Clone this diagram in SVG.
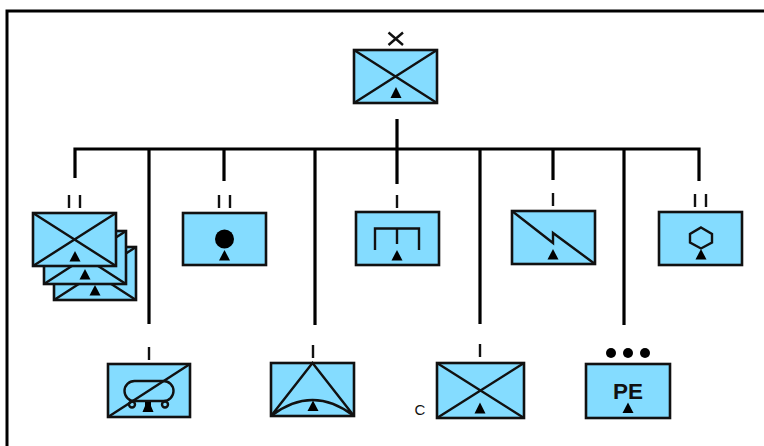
<svg xmlns="http://www.w3.org/2000/svg" width="764" height="446" viewBox="0 0 764 446">
<style>
.box{fill:#84DCFF;stroke:#111;stroke-width:2.6}
.sym{fill:none;stroke:#111;stroke-width:2.4}
.tri{fill:#000}
.tick{stroke:#111;stroke-width:2.4;fill:none}
.conn{stroke:#000;stroke-width:3.2;fill:none}
.t{font-family:"Liberation Sans",Arial,sans-serif;fill:#111}
</style>
<rect width="764" height="446" fill="#fff"/>
<path d="M7 446V11H764" fill="none" stroke="#000" stroke-width="3"/>
<g id="connectors" class="conn">
<path d="M75 178V149H699V181"/>
<path d="M397 119V184"/>
<path d="M149 149V324"/>
<path d="M224 149V181"/>
<path d="M315 149V325"/>
<path d="M480 149V324"/>
<path d="M553 149V180"/>
<path d="M624 149V325"/>
</g>
<g id="hq">
<path class="tick" d="M388.500 32.500L403 45M403 32.500L388.500 45"/>
<rect class="box" x="354" y="50" width="83" height="53"/>
<path class="sym" d="M354 50L437 103M437 50L354 103"/>
<path class="tri" d="M396 87L401.500 98H390.500Z"/>
</g>
<g id="battalion-stack">
<path class="tick" d="M69 195V208M80 195V208"/>
<rect class="box" x="54" y="247" width="82" height="53"/>
<path class="sym" d="M54 300L136 247M54 247L136 300"/>
<path class="tri" d="M95 285L100.500 295.500H89.500Z"/>
<rect class="box" x="44" y="231" width="82" height="53"/>
<path class="sym" d="M44 284L126 231M44 231L126 284"/>
<path class="tri" d="M85 269L90.500 279.500H79.500Z"/>
<rect class="box" x="33" y="213" width="83" height="53"/>
<path class="sym" d="M33 213L116 266M116 213L33 266"/>
<path class="tri" d="M75 251L80.500 261.500H69.500Z"/>
</g>
<g id="medical-battalion">
<path class="tick" d="M219 195V208M230 195V208"/>
<rect class="box" x="183" y="213" width="83" height="52"/>
<circle cx="224.500" cy="239" r="9.500" fill="#000"/>
<path class="tri" d="M224.500 250L230 260.500H219Z"/>
</g>
<g id="mortar-company">
<path class="tick" d="M397 195V208"/>
<rect class="box" x="356" y="212" width="83" height="53"/>
<path class="sym" d="M375 250V228.500H419V250M397 228.500V244"/>
<path class="tri" d="M397 250L402.500 260.500H391.500Z"/>
</g>
<g id="signal-company">
<path class="tick" d="M553 193V206"/>
<rect class="box" x="512" y="211" width="83" height="53"/>
<path class="sym" d="M512 211L553 243V233L595 264"/>
<path class="tri" d="M553 249L558.500 259.500H547.500Z"/>
</g>
<g id="supply-battalion">
<path class="tick" d="M695 194V207M706 194V207"/>
<rect class="box" x="659" y="212" width="83" height="53"/>
<path class="sym" d="M701 227.500L712 234V242.500L701 248.500L690 242.500V234Z"/>
<path class="tri" d="M701 249L706.500 259.500H695.500Z"/>
</g>
<g id="fuel-company">
<path class="tick" d="M149 347V360"/>
<rect class="box" x="108" y="364" width="82" height="53"/>
<path class="sym" d="M108 417L190 364"/>
<rect class="sym" x="124.500" y="381" width="49" height="20" rx="10"/>
<circle class="sym" cx="132" cy="404.500" r="3"/>
<circle class="sym" cx="165" cy="404.500" r="3"/>
<path class="tri" d="M145 402H151V406L153.500 412H142.500L145 406Z"/>
</g>
<g id="air-defence-company">
<path class="tick" d="M313 345V358"/>
<rect class="box" x="271" y="363" width="83" height="53"/>
<path class="sym" d="M271 416L312.500 363L354 416M271 416Q312.500 384 354 416"/>
<path class="tri" d="M313 400.500L318.500 411H307.500Z"/>
</g>
<g id="c-company">
<path class="tick" d="M480 344V357"/>
<rect class="box" x="437" y="363" width="87" height="55"/>
<path class="sym" d="M437 363L524 418M524 363L437 418"/>
<path class="tri" d="M480 402.500L485.500 413.500H474.500Z"/>
<text class="t" x="420" y="415" font-size="15" text-anchor="middle">C</text>
</g>
<g id="pe-platoon">
<circle cx="611" cy="353" r="5" fill="#000"/>
<circle cx="628" cy="353" r="5" fill="#000"/>
<circle cx="645" cy="353" r="5" fill="#000"/>
<rect class="box" x="586" y="364" width="84" height="54"/>
<text class="t" x="628" y="399" font-size="22.500" font-weight="bold" text-anchor="middle">PE</text>
<path class="tri" d="M628 402.500L633.500 413H622.500Z"/>
</g>
</svg>
